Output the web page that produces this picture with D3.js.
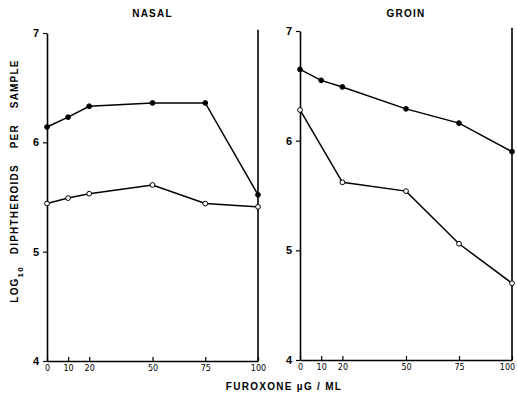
<!DOCTYPE html>
<html>
<head>
<meta charset="utf-8">
<script src="https://cdn.jsdelivr.net/npm/d3@7"></script>
<style>
  body { margin: 0; background: #fff; }
  svg { display: block; font-family: "Liberation Sans", Arial, sans-serif; }
</style>
</head>
<body>
<div class="chart"></div>
<script>
'use strict';

// doses of furoxone (ug/ml)
var doses = [0, 10, 20, 50, 75, 100];
var xTicks = [0, 10, 20, 50, 75, 100];
var yTicks = [4, 5, 6, 7];

// log10 diphtheroids per sample, null = not measured
var nasalFilled = [6.14, 6.23, 6.33, 6.36, 6.36, 5.52];
var nasalOpen = [5.44, 5.49, 5.53, 5.61, 5.44, 5.41];
var groinFilled = [6.65, 6.55, 6.49, 6.29, 6.16, 5.90];
var groinOpen = [6.28, null, 5.62, 5.54, 5.06, 4.70];

var panels = [
    { title: 'NASAL', filled: nasalFilled, open: nasalOpen, x0: 47, x1: 258, y0: 361, y1: 33 },
    { title: 'GROIN', filled: groinFilled, open: groinOpen, x0: 300, x1: 512, y0: 360, y1: 31 }
];

var svg = d3.select('div.chart').append('svg')
    .attr('width', 517)
    .attr('height', 394);

function pairs(vals) {
    return doses.map(function (d, i) { return [d, vals[i]]; })
        .filter(function (p) { return p[1] != null; });
}

panels.forEach(function (p, pi) {
    var x = d3.scaleLinear().domain([0, 100]).range([p.x0, p.x1]);
    var y = d3.scaleLinear().domain([4, 7]).range([p.y0, p.y1]);
    var g = svg.append('g');

    g.append('text')
        .attr('x', (p.x0 + p.x1) / 2)
        .attr('y', 17)
        .attr('text-anchor', 'middle')
        .attr('font-size', 10)
        .attr('font-weight', 'bold')
        .attr('letter-spacing', 1.2)
        .text(p.title);

    var yAx = g.append('g')
        .attr('transform', 'translate(' + p.x0 + ',0)')
        .call(d3.axisLeft(y).tickValues(yTicks).tickFormat(d3.format('d'))
            .tickSize(4).tickSizeOuter(0).tickPadding(4));
    yAx.selectAll('text').attr('font-size', 11).attr('font-weight', 'bold')
        .attr('font-family', '"Liberation Sans", Arial, sans-serif');

    var xAx = g.append('g')
        .attr('transform', 'translate(0,' + p.y0 + ')')
        .call(d3.axisBottom(x).tickValues(xTicks).tickSize(-4).tickSizeOuter(0).tickPadding(4));
    xAx.selectAll('text').attr('font-size', 8)
        .attr('font-family', '"DejaVu Sans", sans-serif');
    if (pi === 1) {
        // keep the last label inside the page
        xAx.selectAll('.tick').filter(function (d) { return d === 100; })
            .select('text').attr('dx', -5);
    }

    svg.selectAll('.domain').attr('stroke-width', 1.6);
    svg.selectAll('.tick line').attr('stroke-width', 1.2);

    // right frame line
    g.append('line')
        .attr('x1', x(100)).attr('x2', x(100))
        .attr('y1', y(7.03)).attr('y2', y(4))
        .attr('stroke', '#000')
        .attr('stroke-width', 1.6);

    var line = d3.line()
        .x(function (d) { return x(d[0]); })
        .y(function (d) { return y(d[1]); });

    [['filled', '#000'], ['open', '#fff']].forEach(function (s) {
        var pts = pairs(p[s[0]]);
        g.append('path')
            .attr('d', line(pts))
            .attr('fill', 'none')
            .attr('stroke', '#000')
            .attr('stroke-width', 1.5);
        g.selectAll('circle.' + s[0])
            .data(pts)
            .enter().append('circle')
            .attr('class', s[0])
            .attr('cx', function (d) { return x(d[0]); })
            .attr('cy', function (d) { return y(d[1]); })
            .attr('r', 2.4)
            .attr('fill', s[1])
            .attr('stroke', '#000')
            .attr('stroke-width', 1);
    });
});

// y label
var yl = svg.append('text')
    .attr('transform', 'translate(18,181) rotate(-90)')
    .attr('text-anchor', 'middle')
    .attr('font-size', 10)
    .attr('font-weight', 'bold')
    .attr('letter-spacing', 1.2);
yl.append('tspan').text('LOG');
yl.append('tspan').attr('dy', 5).attr('font-size', 8).text('10');
yl.append('tspan').attr('dy', -5).text('\u00a0\u00a0 DIPHTHEROIDS \u00a0\u00a0 PER \u00a0\u00a0 SAMPLE');

// x label
svg.append('text')
    .attr('x', 284)
    .attr('y', 390)
    .attr('text-anchor', 'middle')
    .attr('font-size', 10)
    .attr('font-weight', 'bold')
    .attr('letter-spacing', 1.3)
    .text('FUROXONE \u00b5G / ML');
</script>
</body>
</html>
